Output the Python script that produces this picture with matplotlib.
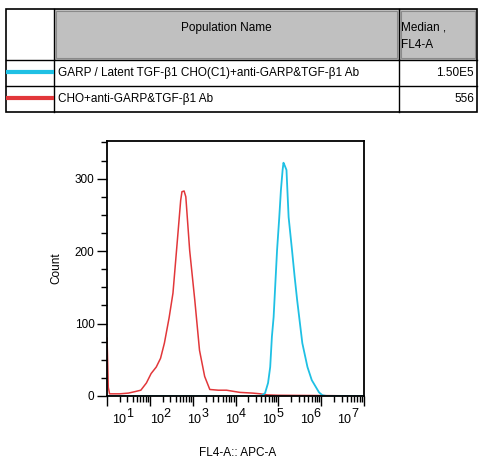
import numpy as np
import matplotlib.pyplot as plt
from matplotlib.patches import Rectangle

plt.rcParams['font.family'] = ['Liberation Sans', 'DejaVu Sans']

# histogram traces, x as log10(FL4-A), y as count
red_logx = [1.0, 1.01, 1.03, 1.06, 1.3, 1.5, 1.65, 1.79, 1.92, 2.03, 2.15, 2.25,
            2.34, 2.45, 2.54, 2.65, 2.72, 2.75, 2.8, 2.84, 2.93, 3.05, 3.16, 3.28,
            3.40, 3.6, 3.79, 4.1, 4.4, 4.58, 4.75, 5.0, 5.5, 6.0, 6.5, 7.0]
red_count = [80, 60, 12, 3, 3, 4, 6, 8, 18, 31, 40, 52,
             73, 108, 142, 220, 270, 282, 283, 275, 201, 132, 63, 27,
             9, 8, 8, 5, 4, 3, 1.5, 1, 0.8, 0.6, 0.3, 0]

blue_logx = [1.0, 4.0, 4.55, 4.62, 4.69, 4.76, 4.81, 4.85, 4.89, 4.93, 4.97, 5.02,
             5.06, 5.1, 5.12, 5.15, 5.19, 5.24, 5.32, 5.38, 5.44, 5.56, 5.68,
             5.78, 5.87, 5.95, 6.03, 6.13, 7.0]
blue_count = [0, 0, 0, 1, 4, 18, 40, 82, 109, 155, 201, 245,
              284, 312, 322, 318, 312, 247, 201, 165, 132, 73, 40,
              22, 13, 5, 1, 0, 0]

pop_names = ['GARP / Latent TGF-\u03b21 CHO(C1)+anti-GARP&TGF-\u03b21 Ab',
             'CHO+anti-GARP&TGF-\u03b21 Ab']
medians = ['1.50E5', '556']
colors = ['#1fc0e4', '#e2373a']
exponents = [1, 2, 3, 4, 5, 6, 7]

fig = plt.figure(figsize=(4.9, 4.71), dpi=100)

# ---- table on top, drawn in pixel coordinates ----
tab = fig.add_axes([0, 0, 1, 1])
tab.set_xlim(0, 490)
tab.set_ylim(471, 0)
tab.axis('off')
tab.patch.set_alpha(0)

x0, x1, x2, x3 = 6, 54, 399, 477
y0, y1, y2, y3 = 9, 60, 86, 112
for xa, xb in [(x1, x2), (x2, x3)]:
    tab.add_patch(Rectangle((xa, y0), xb - xa, y1 - y0, facecolor='#c0c0c0', edgecolor='none'))
    tab.add_patch(Rectangle((xa + 2, y0 + 2), xb - xa - 4, y1 - y0 - 4,
                            facecolor='none', edgecolor='#8a8a8a', lw=0.8))
tab.add_patch(Rectangle((x0, y0), x3 - x0, y3 - y0, facecolor='none', edgecolor='black', lw=1.2))
for yy in [y1, y2]:
    tab.plot([x0, x3], [yy, yy], color='black', lw=1.0)
for xx in [x1, x2]:
    tab.plot([xx, xx], [y0, y3], color='black', lw=1.0)

fs = 8.5
tab.text((x1 + x2) / 2, 28, 'Population Name', ha='center', va='center', fontsize=fs)
tab.text(x2 + 2, 28, 'Median ,', ha='left', va='center', fontsize=fs)
tab.text(x2 + 2, 45, 'FL4-A', ha='left', va='center', fontsize=fs)
for i, (name, med, c) in enumerate(zip(pop_names, medians, colors)):
    yc = (y1 + y2) / 2 + i * (y2 - y1)
    tab.plot([x0, x1], [yc - 1, yc - 1], color=c, lw=3, solid_capstyle='butt')
    tab.text(x1 + 4, yc, name, ha='left', va='center', fontsize=fs)
    tab.text(x3 - 3, yc, med, ha='right', va='center', fontsize=fs)

# ---- histogram ----
ax = fig.add_axes([107 / 490, (471 - 396) / 471, 257 / 490, 255 / 471])
ax.plot(10 ** np.array(red_logx), red_count, color=colors[1], lw=1.1)
ax.plot(10 ** np.array(blue_logx), blue_count, color=colors[0], lw=1.3)
ax.set_xscale('log')
ax.set_xlim(10, 1e7)
ax.set_ylim(0, 352)

for s in ax.spines.values():
    s.set_linewidth(1.3)
ax.set_yticks([0, 100, 200, 300])
ax.set_yticks(np.arange(25, 351, 25), minor=True)
ax.tick_params(axis='y', which='major', length=7, width=1, labelsize=fs, pad=2)
ax.tick_params(axis='y', which='minor', length=4, width=1)

ax.set_xticks([10 ** k for k in exponents])
ax.set_xticklabels([])
minors = [m * 10 ** k for k in range(1, 7) for m in range(2, 10)]
ax.set_xticks(minors, minor=True)
ax.xaxis.set_minor_formatter(plt.NullFormatter())
ax.tick_params(axis='x', which='major', length=7, width=1)
ax.tick_params(axis='x', which='minor', length=4, width=1)

# FlowJo style decade labels: "10" with a full size raised exponent
label_pos = np.linspace(0.058, 0.934, 7)
for k, xp in zip(exponents, label_pos):
    ax.annotate('10', xy=(xp, 0), xycoords='axes fraction', xytext=(-2, -19.5),
                textcoords='offset points', ha='center', va='baseline', fontsize=9)
    ax.annotate(str(k), xy=(xp, 0), xycoords='axes fraction', xytext=(5.5, -15),
                textcoords='offset points', ha='center', va='baseline', fontsize=9)

ax.set_ylabel('Count', fontsize=fs, labelpad=9)
fig.text(238 / 490, 1 - 453 / 471, 'FL4-A:: APC-A', ha='center', va='center', fontsize=fs)

fig.savefig('out.png', dpi=100)
